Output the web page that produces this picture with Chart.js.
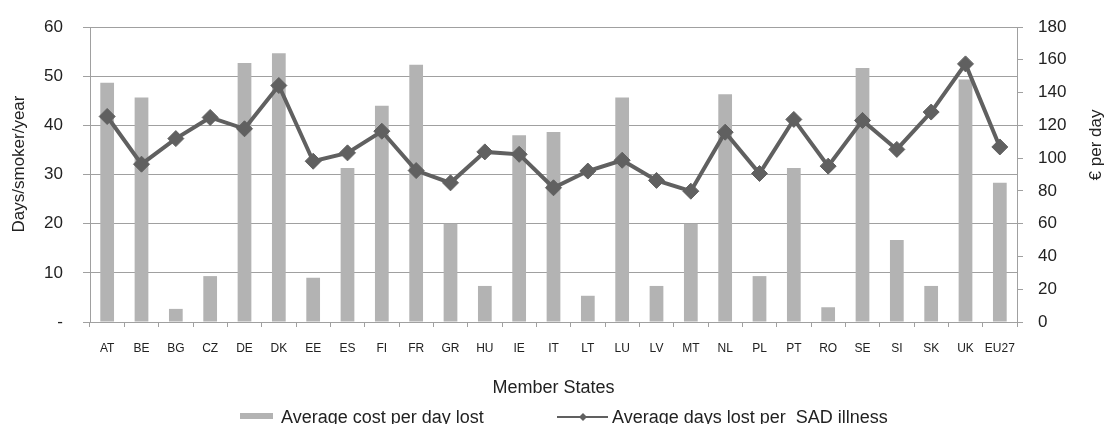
<!DOCTYPE html>
<html>
<head>
<meta charset="utf-8">
<script src="https://cdn.jsdelivr.net/npm/chart.js@4.4.1/dist/chart.umd.min.js"></script>
<style>
  html, body { margin: 0; padding: 0; background: #fff; }
  #wrap { position: relative; width: 1109px; height: 424px; }
</style>
</head>
<body>
<div id="wrap"><canvas id="myChart"></canvas></div>
<script>
const memberStates = ['AT','BE','BG','CZ','DE','DK','EE','ES','FI','FR','GR','HU','IE','IT','LT','LU','LV','MT','NL','PL','PT','RO','SE','SI','SK','UK','EU27'];
// € per day (right axis)
const costPerDayLost = [146,137,8,28,158,164,27,94,132,157,60,22,114,116,16,137,22,60,139,28,94,9,155,50,22,148,85];
// days/smoker/year (left axis)
const daysLostPerIllness = [41.8,32.1,37.3,41.6,39.3,48.1,32.7,34.4,38.8,30.8,28.3,34.6,34.1,27.3,30.7,32.9,28.8,26.6,38.6,30.2,41.2,31.7,41.0,35.1,42.7,52.5,35.6];
const leftTicks = [0,10,20,30,40,50,60];
const rightTicks = [0,20,40,60,80,100,120,140,160,180];

const barColor = '#b3b3b3';
const lineColor = '#606060';
const gridColor = '#a0a0a0';
const txtColor = '#222';
const fontName = '"Liberation Sans", Arial, sans-serif';

// axis titles read bottom-to-top on both sides, and the legend, drawn here
const extrasPlugin = {
    id: 'extras',
    afterDraw(chart){
        const ctx = chart.ctx;
        ctx.save();
        ctx.fillStyle = txtColor;
        ctx.textAlign = 'center';
        ctx.textBaseline = 'middle';
        ctx.font = '17px ' + fontName;
        ctx.translate(19, 164);
        ctx.rotate(-Math.PI/2);
        ctx.fillText('Days/smoker/year', 0, 0);
        ctx.restore();

        ctx.save();
        ctx.fillStyle = txtColor;
        ctx.textAlign = 'center';
        ctx.textBaseline = 'middle';
        ctx.font = '17px ' + fontName;
        ctx.translate(1096, 145);
        ctx.rotate(-Math.PI/2);
        ctx.fillText('€ per day', 0, 0);
        ctx.restore();

        // legend
        const ds = chart.data.datasets;
        ctx.save();
        ctx.font = '18px ' + fontName;
        ctx.fillStyle = barColor;
        ctx.fillRect(240, 413, 33, 6);
        ctx.fillStyle = txtColor;
        ctx.textBaseline = 'alphabetic';
        ctx.fillText(ds[1].label, 281, 423);
        ctx.strokeStyle = lineColor;
        ctx.lineWidth = 2;
        ctx.beginPath();
        ctx.moveTo(557, 417);
        ctx.lineTo(608, 417);
        ctx.stroke();
        ctx.fillStyle = lineColor;
        ctx.beginPath();
        ctx.moveTo(583, 413); ctx.lineTo(587, 417); ctx.lineTo(583, 421); ctx.lineTo(579, 417);
        ctx.closePath();
        ctx.fill();
        ctx.fillStyle = txtColor;
        ctx.fillText(ds[0].label, 612, 423);
        ctx.restore();
    }
};

const trimPad = (scale) => { scale.paddingTop = 4; scale.paddingBottom = 4; };

const ctx = document.getElementById('myChart').getContext('2d');
const myChart = new Chart(ctx, {
    data: {
        labels: memberStates,
        datasets: [{
            type: 'line',
            label: 'Average days lost per  SAD illness',
            data: daysLostPerIllness,
            yAxisID: 'y',
            borderColor: lineColor,
            backgroundColor: lineColor,
            borderWidth: 4,
            pointStyle: 'rectRot',
            pointRadius: 8,
            pointBorderWidth: 1,
            tension: 0,
            order: 0
        },{
            type: 'bar',
            label: 'Average cost per day lost',
            data: costPerDayLost,
            yAxisID: 'y1',
            backgroundColor: barColor,
            barPercentage: 0.4,
            categoryPercentage: 1,
            order: 1
        }]
    },
    options: {
        responsive: true,
        maintainAspectRatio: false,
        animation: false,
        layout: { padding: { top: 27, bottom: 25, left: 0, right: 0 } },
        plugins: {
            legend: { display: false },
            tooltip: { enabled: false }
        },
        scales: {
            x: {
                offset: true,
                grid: { offset: true, drawOnChartArea: false, drawTicks: true, tickLength: 5, color: gridColor },
                border: { display: true, color: gridColor },
                ticks: { color: txtColor, font: { family: fontName, size: 12 }, padding: 14, maxRotation: 0, autoSkip: false },
                title: { display: true, text: 'Member States', color: txtColor, font: { family: fontName, size: 18 }, padding: 0 },
                afterFit(scale){ scale.height = 77; }
            },
            y: {
                position: 'left',
                min: 0, max: 60,
                afterBuildTicks(scale){ scale.ticks = leftTicks.map(v => ({value: v})); },
                grid: { color: gridColor, tickLength: 7 },
                border: { display: true, color: gridColor },
                ticks: {
                    color: txtColor, font: { family: fontName, size: 17 }, padding: 20,
                    callback: (v) => v === 0 ? '-' : v
                },
                afterFit(scale){ scale.width = 90; trimPad(scale); }
            },
            y1: {
                position: 'right',
                min: 0, max: 180,
                afterBuildTicks(scale){ scale.ticks = rightTicks.map(v => ({value: v})); },
                grid: { drawOnChartArea: false, color: gridColor, tickLength: 6 },
                border: { display: true, color: gridColor },
                ticks: { color: txtColor, font: { family: fontName, size: 17 }, padding: 15 },
                afterFit(scale){ scale.width = 92; trimPad(scale); }
            }
        }
    },
    plugins: [extrasPlugin]
});
</script>
</body>
</html>
